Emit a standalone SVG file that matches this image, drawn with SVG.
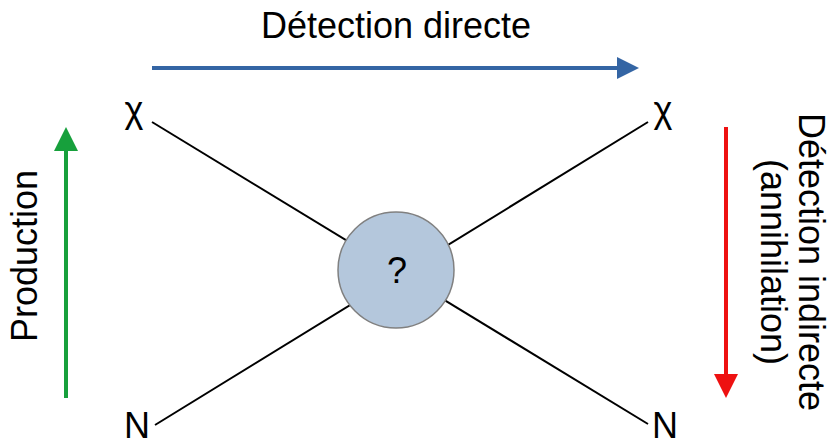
<svg xmlns="http://www.w3.org/2000/svg" width="828" height="441" viewBox="0 0 828 441">
<style>
text{font-family:"Liberation Sans",Arial,sans-serif;font-size:36px;fill:#000}
.ln{stroke:#000;stroke-width:2;fill:none}
</style>
<defs>
<marker id="ab" markerUnits="userSpaceOnUse" markerWidth="22" markerHeight="22" refX="0" refY="11" orient="auto" viewBox="0 0 22 22"><path d="M0,0L22,11L0,22z" fill="#3465a4"/></marker>
<marker id="ag" markerUnits="userSpaceOnUse" markerWidth="24" markerHeight="24" refX="0" refY="12" orient="auto" viewBox="0 0 24 24"><path d="M0,0L24,12L0,24z" fill="#17a03c"/></marker>
<marker id="ar" markerUnits="userSpaceOnUse" markerWidth="24" markerHeight="24" refX="0" refY="12" orient="auto" viewBox="0 0 24 24"><path d="M0,0L24,12L0,24z" fill="#ee1111"/></marker>
</defs>
<g id="connectors">
<line class="ln" x1="152" y1="122" x2="648" y2="424"/>
<line class="ln" x1="155" y1="425" x2="648" y2="122"/>
<line x1="152" y1="68" x2="617" y2="68" stroke="#3465a4" stroke-width="4" marker-end="url(#ab)"/>
<line x1="66" y1="398" x2="66" y2="151" stroke="#17a03c" stroke-width="4" marker-end="url(#ag)"/>
<line x1="726" y1="127" x2="726" y2="374" stroke="#ee1111" stroke-width="4" marker-end="url(#ar)"/>
</g>
<g id="vertex">
<circle cx="396" cy="270" r="58" fill="#b4c7dc" stroke="#808080" stroke-width="1.5"/>
<text x="397" y="283" text-anchor="middle">?</text>
</g>
<g id="chi-left"><text x="134" y="122" text-anchor="middle">χ</text></g>
<g id="chi-right"><text x="663" y="122" text-anchor="middle">χ</text></g>
<g id="n-left"><text x="137" y="438" text-anchor="middle">N</text></g>
<g id="n-right"><text x="665" y="438" text-anchor="middle">N</text></g>
<g id="title-direct"><text x="396" y="38" text-anchor="middle">Détection directe</text></g>
<g id="label-production"><text transform="translate(37,256) rotate(-90)" text-anchor="middle">Production</text></g>
<g id="label-indirect">
<text transform="translate(799,262) rotate(90)" text-anchor="middle">Détection indirecte</text>
<text transform="translate(761,262) rotate(90)" text-anchor="middle">(annihilation)</text>
</g>
</svg>
